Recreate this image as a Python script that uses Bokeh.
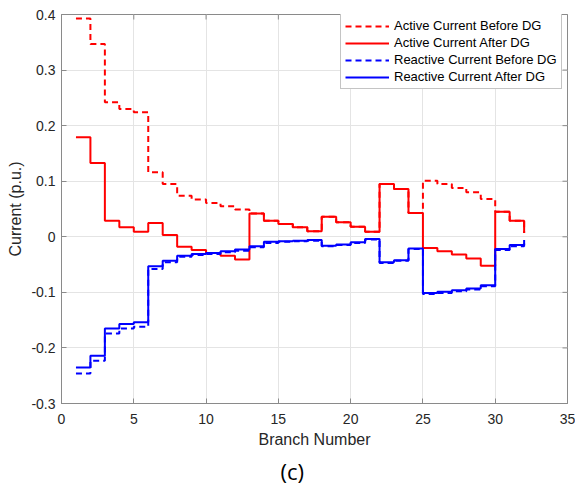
import math
from bokeh.plotting import figure
from bokeh.models import (FixedTicker, NumeralTickFormatter, Legend, LegendItem,
                          Title, Range1d)
from bokeh.embed import file_html
from bokeh.resources import INLINE

# ---------------- data ----------------
branch = list(range(1, 33))
active_before = [0.393, 0.347, 0.242, 0.230, 0.224, 0.116, 0.095, 0.074, 0.067, 0.061,
                 0.055, 0.049, 0.042, 0.029, 0.023, 0.017, 0.010, 0.036, 0.026, 0.018,
                 0.009, 0.095, 0.086, 0.043, 0.101, 0.095, 0.088, 0.080, 0.068, 0.045,
                 0.029, 0.007]
active_after = [0.179, 0.133, 0.029, 0.017, 0.009, 0.025, 0.003, -0.018, -0.024, -0.029,
                -0.034, -0.041, 0.042, 0.029, 0.023, 0.017, 0.010, 0.036, 0.026, 0.018,
                0.009, 0.095, 0.086, 0.043, -0.020, -0.026, -0.032, -0.039, -0.052, 0.045,
                0.029, 0.007]
reactive_before = [-0.246, -0.223, -0.174, -0.165, -0.162, -0.058, -0.046, -0.036, -0.033, -0.031,
                   -0.028, -0.025, -0.019, -0.011, -0.009, -0.008, -0.007, -0.017, -0.015, -0.011,
                   -0.005, -0.047, -0.043, -0.022, -0.103, -0.101, -0.098, -0.095, -0.089, -0.024,
                   -0.017, -0.008]
reactive_after = [-0.235, -0.214, -0.165, -0.157, -0.154, -0.053, -0.043, -0.034, -0.031, -0.029,
                  -0.026, -0.023, -0.017, -0.009, -0.008, -0.007, -0.006, -0.016, -0.014, -0.010,
                  -0.004, -0.046, -0.042, -0.021, -0.101, -0.099, -0.096, -0.093, -0.087, -0.022,
                  -0.015, -0.006]
series_labels = ["Active Current Before DG", "Active Current After DG",
                 "Reactive Current Before DG", "Reactive Current After DG"]
x_ticks = [0, 5, 10, 15, 20, 25, 30, 35]
y_ticks = [-0.3, -0.2, -0.1, 0, 0.1, 0.2, 0.3, 0.4]
x_min, x_max = 0, 35
y_min, y_max = -0.3, 0.4

FONT = "Liberation Sans"
AXIS_COLOR = "#8a8a8a"
TEXT_COLOR = "#262626"
RED = "#ff0000"
BLUE = "#0000ff"

p = figure(width=575, height=487, x_range=Range1d(x_min, x_max), y_range=Range1d(y_min, y_max),
           output_backend="svg", toolbar_location=None,
           min_border_left=61, min_border_right=8, min_border_top=14, min_border_bottom=20)
p.background_fill_color = "white"
p.border_fill_color = "white"
p.outline_line_color = AXIS_COLOR
p.outline_line_width = 1

p.xgrid.ticker = FixedTicker(ticks=x_ticks)
p.ygrid.ticker = FixedTicker(ticks=y_ticks)
p.xgrid.grid_line_color = "#e4e4e4"
p.ygrid.grid_line_color = "#e4e4e4"

r1 = p.step(branch, active_before, mode="after", line_color=RED, line_width=2, line_dash="6 4")
r2 = p.step(branch, active_after, mode="after", line_color=RED, line_width=2)
r3 = p.step(branch, reactive_before, mode="after", line_color=BLUE, line_width=2, line_dash="6 4")
r4 = p.step(branch, reactive_after, mode="after", line_color=BLUE, line_width=2)

# inward ticks on top and right edges of the box (clipped dash markers)
p.scatter(x=x_ticks, y=[y_max] * len(x_ticks), marker="dash", angle=math.pi / 2,
          size=10, line_color=AXIS_COLOR, line_width=1)
p.scatter(x=[x_max] * len(y_ticks), y=y_ticks, marker="dash",
          size=10, line_color=AXIS_COLOR, line_width=1)

# axes
for ax in (p.xaxis[0], p.yaxis[0]):
    ax.axis_line_color = AXIS_COLOR
    ax.major_tick_line_color = AXIS_COLOR
    ax.major_tick_in = 5
    ax.major_tick_out = 0
    ax.minor_tick_line_color = None
    ax.major_label_text_font = FONT
    ax.major_label_text_font_size = "14px"
    ax.major_label_text_color = TEXT_COLOR
    ax.axis_label_text_font = FONT
    ax.axis_label_text_font_size = "16px"
    ax.axis_label_text_font_style = "normal"
    ax.axis_label_text_color = TEXT_COLOR
    ax.axis_label_standoff = 4

p.xaxis[0].major_label_standoff = 10
p.yaxis[0].major_label_standoff = 6
p.xaxis[0].ticker = FixedTicker(ticks=x_ticks)
p.yaxis[0].ticker = FixedTicker(ticks=y_ticks)
p.yaxis[0].formatter = NumeralTickFormatter(format="0.[0]")
p.xaxis[0].axis_label = "Branch Number"
p.yaxis[0].axis_label = "Current (p.u.)"

legend = Legend(items=[LegendItem(label=series_labels[0], renderers=[r1]),
                       LegendItem(label=series_labels[1], renderers=[r2]),
                       LegendItem(label=series_labels[2], renderers=[r3]),
                       LegendItem(label=series_labels[3], renderers=[r4])],
                location=(279, 314))
legend.border_line_color = AXIS_COLOR
legend.border_line_width = 1
legend.background_fill_color = "white"
legend.background_fill_alpha = 1
legend.label_text_font = FONT
legend.label_text_font_size = "13px"
legend.label_text_color = "black"
legend.glyph_width = 44
legend.glyph_height = 14
legend.label_height = 14
legend.spacing = 2
legend.padding = 4
legend.margin = 0
legend.label_standoff = 5
p.add_layout(legend, "center")

cap = Title(text="(c)", align="left", offset=219, text_font="Open Sans",
            text_font_size="22px", text_font_style="normal", text_color="black",
            vertical_align="top", standoff=0, padding=(0, 0, 5, 0))
p.add_layout(cap, "below")

open("out.html", "w").write(file_html(p, INLINE))
